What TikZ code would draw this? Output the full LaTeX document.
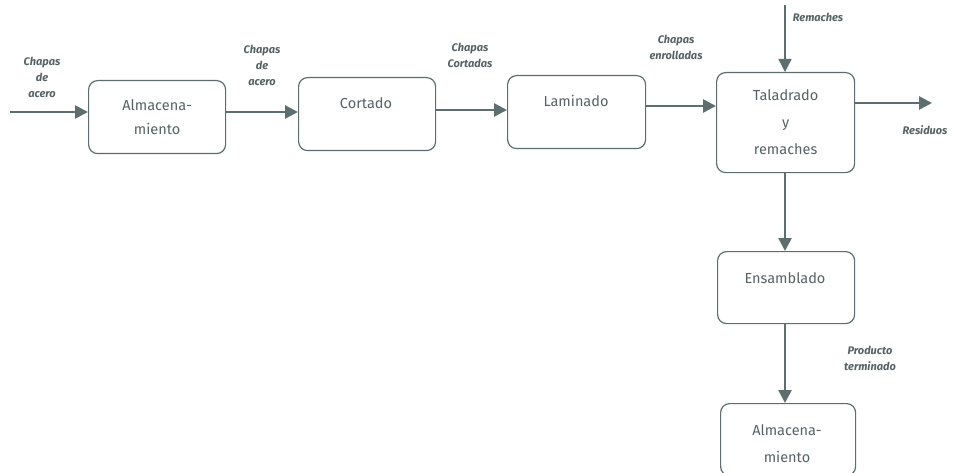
\documentclass[tikz,border=0pt]{standalone}
\usepackage{fontspec}
\setmainfont{Fira Sans}
\usetikzlibrary{arrows.meta}
\definecolor{ink}{HTML}{5E6E6E}
\definecolor{txt}{HTML}{566264}
\tikzset{
  proc/.style={draw=ink, line width=1.2pt, rounded corners=9pt, fill=white, anchor=north west},
  ptext/.style={text=txt, font=\fontsize{14.5}{24}\selectfont\mdseries, align=center},
  flow/.style={draw=ink, line width=2.6pt, -{Triangle[length=13pt,width=13pt]}},
  thinflow/.style={draw=ink, line width=1.4pt, -{Triangle[length=13pt,width=13pt]}},
  lbl/.style={text=txt, font=\fontsize{11}{16}\selectfont\bfseries\itshape, align=center, inner sep=0pt}
}
\begin{document}
\begin{tikzpicture}[x=1pt,y=-1pt]
\useasboundingbox (0,0) rectangle (957,473);
% process boxes
\node[proc, minimum width=137pt, minimum height=73pt] (alm1) at (88,80) {};
\node[ptext] at (alm1.center) {Almacena-\\miento};
\node[proc, minimum width=137pt, minimum height=73pt] (cort) at (298,77) {};
\node[ptext] at (366,103) {Cortado};
\node[proc, minimum width=138pt, minimum height=73pt] (lam) at (507,75) {};
\node[ptext] at (576,101) {Laminado};
\node[proc, minimum width=138pt, minimum height=100pt] (tal) at (716,72) {};
\node[ptext, font=\fontsize{14.5}{27}\selectfont] at (tal.center) {Taladrado\\y\\remaches};
\node[proc, minimum width=137pt, minimum height=72pt] (ens) at (717,251) {};
\node[ptext] at (785,278) {Ensamblado};
\node[proc, minimum width=135pt, minimum height=72pt] (alm2) at (720,403) {};
\node[ptext, font=\fontsize{14.5}{27}\selectfont] at (787,444) {Almacena-\\miento};
% free ends
\coordinate (in) at (10,112);
\coordinate (rtop) at (785,5);
\coordinate (rout) at (932,103);
% connectors
\draw[flow] (in) -- (alm1.west |- in);
\draw[flow] (alm1.east |- 0,112) -- (cort.west |- 0,112);
\draw[flow] (cort.east |- 0,110) -- (lam.west |- 0,110);
\draw[flow] (lam.east |- 0,106) -- (tal.west |- 0,106);
\draw[thinflow] (rtop) -- (rtop |- tal.north);
\draw[flow] (tal.east |- rout) -- (rout);
\draw[flow] (tal.south -| 785,0) -- (ens.north -| 785,0);
\draw[flow] (ens.south -| 785,0) -- (alm2.north -| 785,0);
% flow labels
\node[lbl] (l1) at (42,77) {Chapas\\de\\acero};
\node[lbl] (l2) at (262,65) {Chapas\\de\\acero};
\node[lbl] (l3) at (470,55) {Chapas\\Cortadas};
\node[lbl] (l4) at (676,47) {Chapas\\enrolladas};
\node[lbl] (l5) at (818,17) {Remaches};
\node[lbl] (l6) at (925,130) {Residuos};
\node[lbl] (l7) at (870,358) {Producto\\terminado};
\end{tikzpicture}
\end{document}
